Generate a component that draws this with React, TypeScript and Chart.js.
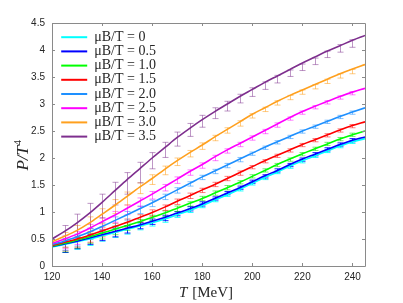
import React, { useEffect, useRef } from "react";
import { Chart, registerables } from "chart.js";
Chart.register(...registerables);

// ---------- data ----------
const T_CURVE = [120, 125, 130, 135, 140, 145, 150, 155, 160, 165, 170, 175, 180, 185, 190, 195, 200, 205, 210, 215, 220, 225, 230, 235, 240, 245];
const T_LATTICE = [125, 130, 135, 140, 145, 150, 155, 160, 165, 170, 175, 180, 185, 190, 195, 200, 205, 210, 215, 220, 225, 230, 235, 240];

const SERIES_LABELS = ["μB/T = 0", "μB/T = 0.5", "μB/T = 1.0", "μB/T = 1.5", "μB/T = 2.0", "μB/T = 2.5", "μB/T = 3.0", "μB/T = 3.5"];
const SERIES_COLORS = ["#00FFFF", "#0000FF", "#00FF00", "#FF0000", "#1E90FF", "#FF00FF", "#FFA01E", "#7E2F8E"];
const BAR_COLORS = ["rgba(0,255,255,0.85)", "rgba(0,0,255,0.85)", "rgba(0,220,0,0.55)", "rgba(255,0,0,0.5)", "rgba(30,144,255,0.55)", "rgba(255,0,255,0.5)", "rgba(255,160,30,0.55)", "rgba(126,47,142,0.5)"];

const CURVE_00 = [0.35, 0.40, 0.45, 0.50, 0.56, 0.62, 0.68, 0.74, 0.80, 0.87, 0.95, 1.03, 1.12, 1.22, 1.32, 1.42, 1.53, 1.64, 1.74, 1.85, 1.95, 2.04, 2.13, 2.22, 2.30, 2.36];
const CURVE_05 = [0.36, 0.41, 0.46, 0.52, 0.58, 0.64, 0.70, 0.76, 0.83, 0.90, 0.98, 1.06, 1.15, 1.25, 1.35, 1.45, 1.56, 1.67, 1.77, 1.88, 1.98, 2.07, 2.16, 2.25, 2.33, 2.39];
const CURVE_10 = [0.37, 0.42, 0.48, 0.54, 0.61, 0.68, 0.75, 0.82, 0.90, 0.98, 1.07, 1.16, 1.25, 1.35, 1.45, 1.55, 1.66, 1.77, 1.88, 1.98, 2.08, 2.17, 2.26, 2.35, 2.43, 2.50];
const CURVE_15 = [0.38, 0.44, 0.50, 0.57, 0.65, 0.73, 0.81, 0.90, 0.99, 1.09, 1.20, 1.30, 1.41, 1.51, 1.62, 1.73, 1.84, 1.95, 2.05, 2.15, 2.25, 2.34, 2.43, 2.52, 2.60, 2.67];
const CURVE_20 = [0.40, 0.46, 0.54, 0.63, 0.73, 0.84, 0.95, 1.06, 1.17, 1.29, 1.41, 1.53, 1.65, 1.76, 1.87, 1.98, 2.09, 2.20, 2.30, 2.40, 2.50, 2.59, 2.68, 2.77, 2.85, 2.93];
const CURVE_25 = [0.42, 0.50, 0.59, 0.70, 0.82, 0.94, 1.07, 1.20, 1.33, 1.47, 1.61, 1.75, 1.88, 2.02, 2.15, 2.27, 2.39, 2.51, 2.63, 2.75, 2.86, 2.96, 3.05, 3.14, 3.22, 3.29];
const CURVE_30 = [0.45, 0.55, 0.66, 0.80, 0.96, 1.12, 1.29, 1.46, 1.62, 1.79, 1.95, 2.10, 2.24, 2.39, 2.53, 2.67, 2.81, 2.93, 3.05, 3.16, 3.26, 3.36, 3.46, 3.56, 3.65, 3.73];
const CURVE_35 = [0.50, 0.64, 0.80, 0.98, 1.18, 1.39, 1.60, 1.80, 2.00, 2.19, 2.38, 2.55, 2.71, 2.86, 3.00, 3.14, 3.27, 3.40, 3.52, 3.64, 3.76, 3.87, 3.98, 4.08, 4.18, 4.27];

const LAT_00 = [0.34, 0.40, 0.47, 0.54, 0.60, 0.66, 0.73, 0.79, 0.86, 0.94, 1.03, 1.12, 1.22, 1.32, 1.42, 1.53, 1.63, 1.74, 1.84, 1.94, 2.04, 2.13, 2.22, 2.30];
const ERR_00 = [0.09, 0.09, 0.09, 0.08, 0.07, 0.07, 0.06, 0.05, 0.05, 0.04, 0.04, 0.04, 0.03, 0.03, 0.03, 0.03, 0.03, 0.03, 0.03, 0.03, 0.03, 0.03, 0.03, 0.03];
const LAT_05 = [0.35, 0.42, 0.49, 0.56, 0.62, 0.68, 0.75, 0.82, 0.89, 0.97, 1.06, 1.15, 1.25, 1.35, 1.45, 1.56, 1.66, 1.77, 1.87, 1.97, 2.07, 2.16, 2.25, 2.33];
const ERR_05 = [0.10, 0.10, 0.09, 0.09, 0.08, 0.07, 0.06, 0.05, 0.05, 0.04, 0.04, 0.04, 0.03, 0.03, 0.03, 0.03, 0.03, 0.03, 0.03, 0.03, 0.03, 0.03, 0.03, 0.03];
const LAT_10 = [0.36, 0.43, 0.51, 0.59, 0.66, 0.73, 0.80, 0.89, 0.97, 1.06, 1.15, 1.25, 1.35, 1.45, 1.55, 1.66, 1.77, 1.87, 1.97, 2.07, 2.17, 2.26, 2.35, 2.43];
const ERR_10 = [0.10, 0.10, 0.09, 0.09, 0.08, 0.07, 0.06, 0.05, 0.05, 0.05, 0.04, 0.04, 0.04, 0.04, 0.03, 0.03, 0.03, 0.03, 0.03, 0.03, 0.03, 0.03, 0.03, 0.03];
const LAT_15 = [0.38, 0.45, 0.54, 0.63, 0.71, 0.79, 0.88, 0.98, 1.08, 1.19, 1.30, 1.40, 1.51, 1.62, 1.72, 1.83, 1.94, 2.04, 2.14, 2.24, 2.33, 2.42, 2.51, 2.59];
const ERR_15 = [0.10, 0.10, 0.10, 0.09, 0.08, 0.08, 0.07, 0.06, 0.05, 0.05, 0.05, 0.04, 0.04, 0.04, 0.04, 0.03, 0.03, 0.03, 0.03, 0.03, 0.03, 0.03, 0.03, 0.03];
const LAT_20 = [0.40, 0.48, 0.59, 0.70, 0.82, 0.93, 1.04, 1.16, 1.28, 1.40, 1.52, 1.64, 1.75, 1.86, 1.97, 2.08, 2.19, 2.29, 2.39, 2.49, 2.58, 2.67, 2.76, 2.84];
const ERR_20 = [0.11, 0.11, 0.10, 0.10, 0.09, 0.08, 0.07, 0.06, 0.05, 0.05, 0.04, 0.04, 0.04, 0.04, 0.04, 0.03, 0.03, 0.03, 0.03, 0.03, 0.03, 0.03, 0.03, 0.03];
const LAT_25 = [0.44, 0.52, 0.65, 0.78, 0.91, 1.04, 1.18, 1.31, 1.45, 1.59, 1.73, 1.86, 2.00, 2.13, 2.25, 2.37, 2.49, 2.61, 2.73, 2.84, 2.94, 3.03, 3.12, 3.20];
const ERR_25 = [0.12, 0.12, 0.12, 0.11, 0.10, 0.09, 0.08, 0.07, 0.06, 0.06, 0.05, 0.05, 0.05, 0.04, 0.04, 0.04, 0.04, 0.04, 0.03, 0.03, 0.03, 0.03, 0.03, 0.03];
const LAT_30 = [0.48, 0.60, 0.76, 0.92, 1.10, 1.25, 1.44, 1.60, 1.77, 1.93, 2.08, 2.22, 2.37, 2.51, 2.64, 2.78, 2.90, 3.02, 3.12, 3.22, 3.32, 3.42, 3.52, 3.60];
const ERR_30 = [0.14, 0.15, 0.15, 0.14, 0.13, 0.12, 0.10, 0.09, 0.08, 0.07, 0.06, 0.06, 0.05, 0.05, 0.05, 0.04, 0.04, 0.04, 0.04, 0.04, 0.04, 0.04, 0.04, 0.04];
const LAT_35 = [0.55, 0.72, 0.93, 1.11, 1.34, 1.53, 1.73, 1.95, 2.15, 2.35, 2.52, 2.68, 2.83, 2.96, 3.10, 3.22, 3.34, 3.46, 3.57, 3.68, 3.79, 3.92, 4.03, 4.12];
const ERR_35 = [0.20, 0.24, 0.23, 0.22, 0.21, 0.20, 0.19, 0.15, 0.14, 0.13, 0.12, 0.11, 0.10, 0.09, 0.08, 0.08, 0.07, 0.07, 0.06, 0.06, 0.06, 0.06, 0.07, 0.07];

const CURVES = [CURVE_00, CURVE_05, CURVE_10, CURVE_15, CURVE_20, CURVE_25, CURVE_30, CURVE_35];
const LATTICE = [LAT_00, LAT_05, LAT_10, LAT_15, LAT_20, LAT_25, LAT_30, LAT_35];
const ERRORS = [ERR_00, ERR_05, ERR_10, ERR_15, ERR_20, ERR_25, ERR_30, ERR_35];

const X_TICKS = [120, 140, 160, 180, 200, 220, 240];
const Y_TICKS = [0, 0.5, 1, 1.5, 2, 2.5, 3, 3.5, 4, 4.5];
const X_TITLE_ITALIC = "T";
const X_TITLE_REST = " [MeV]";
const Y_TITLE_MAIN = "P/T";
const Y_TITLE_SUP = "4";

const FRAME_COLOR = "#8a8a8a";
const TEXT_COLOR = "#262626";

// ---------- plugins ----------
const errorBarPlugin = {
  id: "errorBars",
  beforeDatasetsDraw(chart: any) {
    const ctx = chart.ctx;
    const yScale = chart.scales.y;
    const area = chart.chartArea;
    ctx.save();
    ctx.beginPath();
    ctx.rect(area.left, area.top, area.right - area.left, area.bottom - area.top);
    ctx.clip();
    chart.data.datasets.forEach((ds: any, i: number) => {
      if (!ds.errors) return;
      const meta = chart.getDatasetMeta(i);
      ctx.strokeStyle = ds.barColor;
      ctx.lineWidth = 1;
      meta.data.forEach((pt: any, j: number) => {
        const v = ds.data[j].y;
        const e = ds.errors[j];
        const x = Math.round(pt.x) + 0.5;
        const yTop = yScale.getPixelForValue(v + e);
        const yBot = yScale.getPixelForValue(v - e);
        const cap = 3;
        ctx.beginPath();
        ctx.moveTo(x, yTop);
        ctx.lineTo(x, yBot);
        ctx.moveTo(x - cap, yTop);
        ctx.lineTo(x + cap, yTop);
        ctx.moveTo(x - cap, yBot);
        ctx.lineTo(x + cap, yBot);
        ctx.stroke();
      });
    });
    ctx.restore();
  },
};

const framePlugin = {
  id: "frame",
  afterDatasetsDraw(chart: any) {
    const ctx = chart.ctx;
    const { left, right, top, bottom } = chart.chartArea;
    const xs = chart.scales.x;
    const ys = chart.scales.y;
    const tl = 3;
    ctx.save();
    ctx.strokeStyle = FRAME_COLOR;
    ctx.lineWidth = 1;
    ctx.beginPath();
    ctx.rect(Math.round(left) + 0.5, Math.round(top) + 0.5, Math.round(right - left), Math.round(bottom - top));
    xs.ticks.forEach((t: any) => {
      const x = Math.round(xs.getPixelForValue(t.value)) + 0.5;
      ctx.moveTo(x, bottom);
      ctx.lineTo(x, bottom - tl);
      ctx.moveTo(x, top);
      ctx.lineTo(x, top + tl);
    });
    ys.ticks.forEach((t: any) => {
      const y = Math.round(ys.getPixelForValue(t.value)) + 0.5;
      ctx.moveTo(left, y);
      ctx.lineTo(left + tl, y);
      ctx.moveTo(right, y);
      ctx.lineTo(right - tl, y);
    });
    ctx.stroke();
    ctx.restore();
  },
};

const titlePlugin = {
  id: "axisTitles",
  afterDraw(chart: any) {
    const ctx = chart.ctx;
    const { left, right, top, bottom } = chart.chartArea;
    ctx.save();
    ctx.fillStyle = TEXT_COLOR;
    ctx.textBaseline = "alphabetic";
    ctx.textAlign = "left";
    // x title
    const fItal = 'italic 15px "Liberation Serif"';
    const fNorm = '15px "Liberation Serif"';
    ctx.font = fItal;
    const w1 = ctx.measureText(X_TITLE_ITALIC).width;
    ctx.font = fNorm;
    const w2 = ctx.measureText(X_TITLE_REST).width;
    const cx = (left + right) / 2 - 3;
    const x0 = cx - (w1 + w2) / 2;
    const by = bottom + 31;
    ctx.font = fItal;
    ctx.fillText(X_TITLE_ITALIC, x0, by);
    ctx.font = fNorm;
    ctx.fillText(X_TITLE_REST, x0 + w1 + 1, by);
    // y title (rotated)
    ctx.translate(28, (top + bottom) / 2 + 11);
    ctx.rotate(-Math.PI / 2);
    const fY = 'italic 17px "Liberation Serif"';
    const fS = '11px "Liberation Serif"';
    ctx.font = fY;
    const wm = ctx.measureText(Y_TITLE_MAIN).width;
    ctx.font = fS;
    const ws = ctx.measureText(Y_TITLE_SUP).width;
    const sx = -(wm + ws) / 2;
    ctx.font = fY;
    ctx.fillText(Y_TITLE_MAIN, sx, 0);
    ctx.font = fS;
    ctx.fillText(Y_TITLE_SUP, sx + wm + 0.5, -7);
    ctx.restore();
  },
};

const legendShiftPlugin = {
  id: "legendShift",
  afterLayout(chart: any) {
    const lg = chart.legend;
    if (!lg) return;
    const area = chart.chartArea;
    const h = lg.height;
    const w = lg.width;
    lg.left = area.left + 9;
    lg.right = lg.left + w;
    lg.top = area.top + 7;
    lg.bottom = lg.top + h;
  },
};

export default function App() {
  const canvasRef = useRef<HTMLCanvasElement | null>(null);

  useEffect(() => {
    if (!canvasRef.current) return;
    const curveSets = CURVES.map((vals, i) => ({
      type: "line",
      label: SERIES_LABELS[i],
      data: T_CURVE.map((t, j) => ({ x: t, y: vals[j] })),
      borderColor: SERIES_COLORS[i],
      backgroundColor: SERIES_COLORS[i],
      borderWidth: 1.6,
      pointRadius: 0,
      pointHoverRadius: 0,
      cubicInterpolationMode: "monotone",
      fill: false,
      order: 7 - i,
    }));
    const barSets = LATTICE.map((vals, i) => ({
      type: "line",
      label: "lattice " + SERIES_LABELS[i],
      data: T_LATTICE.map((t, j) => ({ x: t, y: vals[j] })),
      errors: ERRORS[i],
      barColor: BAR_COLORS[i],
      showLine: false,
      borderColor: BAR_COLORS[i],
      backgroundColor: BAR_COLORS[i],
      pointRadius: 0,
      pointHoverRadius: 0,
      order: 20,
    }));

    const chart = new Chart(canvasRef.current, {
      type: "line",
      data: { datasets: [...curveSets, ...barSets] as any },
      options: {
        responsive: false,
        animation: false,
        events: [],
        layout: { padding: { left: 0, right: 38, top: 23, bottom: 0 } },
        scales: {
          x: {
            type: "linear",
            min: 120,
            max: 245,
            afterBuildTicks: (s: any) => {
              s.ticks = X_TICKS.map((v) => ({ value: v }));
            },
            afterFit: (s: any) => {
              s.height = 37;
            },
            grid: { display: false, drawTicks: false },
            border: { display: false },
            ticks: {
              padding: 5,
              color: TEXT_COLOR,
              font: { family: '"Liberation Sans"', size: 10 },
              callback: (v: any) => String(v),
              maxRotation: 0,
            },
          },
          y: {
            type: "linear",
            min: 0,
            max: 4.5,
            afterBuildTicks: (s: any) => {
              s.ticks = Y_TICKS.map((v) => ({ value: v }));
            },
            afterFit: (s: any) => {
              s.width = 52;
            },
            grid: { display: false, drawTicks: false },
            border: { display: false },
            ticks: {
              padding: 7,
              color: TEXT_COLOR,
              font: { family: '"Liberation Sans"', size: 10 },
              callback: (v: any) => String(v),
            },
          },
        },
        plugins: {
          tooltip: { enabled: false },
          title: { display: false },
          legend: {
            display: true,
            position: "chartArea",
            align: "start",
            labels: {
              boxWidth: 26,
              boxHeight: 2,
              padding: 0.2,
              color: TEXT_COLOR,
              font: { family: '"Liberation Serif"', size: 14 },
              filter: (item: any) => item.datasetIndex < 8,
              sort: (a: any, b: any) => a.datasetIndex - b.datasetIndex,
              generateLabels: (ch: any) =>
                ch.data.datasets.map((ds: any, i: number) => ({
                  text: ds.label,
                  fillStyle: ds.borderColor,
                  strokeStyle: ds.borderColor,
                  lineWidth: 0,
                  hidden: false,
                  datasetIndex: i,
                  fontColor: TEXT_COLOR,
                })),
            },
          },
        },
      } as any,
      plugins: [errorBarPlugin, framePlugin, titlePlugin, legendShiftPlugin],
    });
    return () => chart.destroy();
  }, []);

  return (
    <div style={{ position: "absolute", left: 0, top: 0, width: 403, height: 303, background: "#fff" }}>
      <canvas ref={canvasRef} width={403} height={303} />
    </div>
  );
}
